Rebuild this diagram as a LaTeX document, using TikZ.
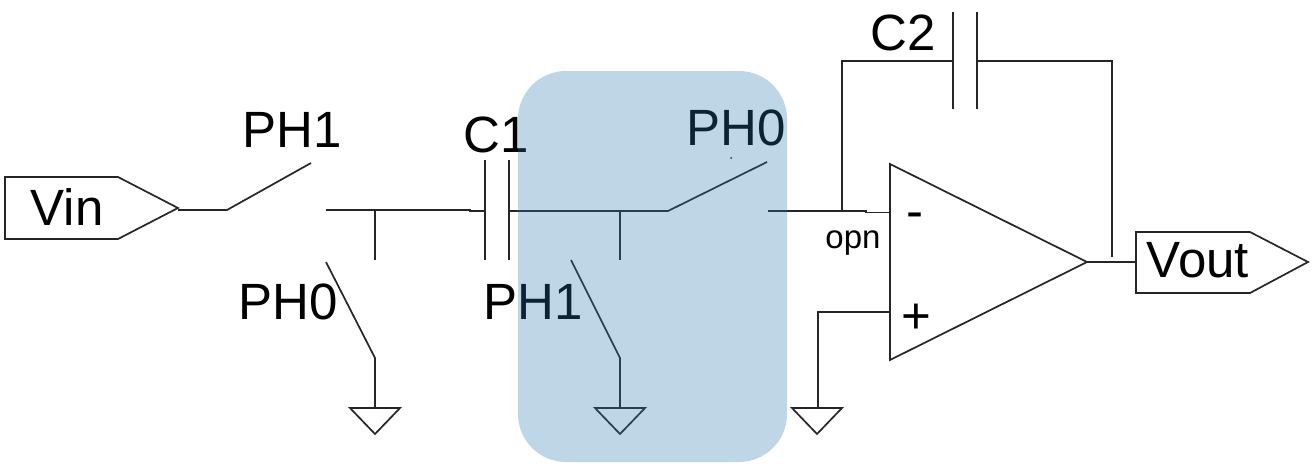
\documentclass[tikz,border=0pt]{standalone}
\usepackage{fontspec}
\setmainfont{Liberation Sans}
\definecolor{bluebox}{HTML}{2A76AC}
\tikzset{wire/.style={draw=black!85,line width=.85pt},
 lbl/.style={font=\fontsize{25.5}{26}\selectfont,inner sep=0pt,text=black},
 smalllbl/.style={font=\fontsize{16.5}{17}\selectfont,inner sep=0pt,text=black},
 holdbox/.style={fill=bluebox,fill opacity=.3,rounded corners=24pt,inner sep=0pt},
 }
\begin{document}
\begin{tikzpicture}[x=.5pt,y=-.5pt]
        \useasboundingbox (0,0) rectangle (1315,466);
        % input port
        \draw[wire] (5,177) -- (118,177) -- (178,208) -- (118,239) -- (5,239) -- cycle;
        \node[lbl] (vin) at (67,207) {Vin};
        \coordinate (vintip) at (178,210);
        \coordinate (sa) at (227,210);
        \coordinate (sb) at (311,163);
        \coordinate (na) at (326,210);
        \coordinate (c1l) at (485,211);
        \coordinate (c1r) at (509,211);
        \coordinate (sc) at (668,211);
        \coordinate (sd) at (767,162);
        \coordinate (opn) at (768,211);
        \coordinate (jog) at (866,211);
        \coordinate (joh) at (866,212.5);
        \coordinate (fb) at (842,211);
        \coordinate (inn) at (890,212.5);
        \draw[wire] (vintip) -- (sa) -- (sb);
        \draw[wire] (na) -- (470,210) -- (470,211) -- (c1l);
        \draw[wire] (c1r) -- (sc) -- (sd);
        \draw[wire] (opn) -- (jog) -- (joh) -- (inn);
        \fill[black!85] (731,158) circle (.5pt);
        % capacitors
        \draw[wire] (485,160) -- (485,260);
        \draw[wire] (509,160) -- (509,260);
        \draw[wire] (953,12) -- (953,109);
        \draw[wire] (977,12) -- (977,109);
        % shunt switches
        \coordinate (ta) at (375,210);
        \coordinate (tb) at (375,260);
        \coordinate (tc) at (326,262);
        \coordinate (td) at (375,358);
        \coordinate (te) at (375,408);
        \draw[wire] (ta) -- (tb);
        \draw[wire] (tc) -- (td) -- (te);
        \coordinate (ua) at (620,210);
        \coordinate (ub) at (620,260);
        \coordinate (uc) at (571,260);
        \coordinate (ud) at (620,358);
        \coordinate (ue) at (620,408);
        \draw[wire] (ua) -- (ub);
        \draw[wire] (uc) -- (ud) -- (ue);
        % grounds
        \draw[wire] (350,408) -- (400,408) -- (375,434) -- cycle;
        \draw[wire] (595,408) -- (645,408) -- (620,434) -- cycle;
        \draw[wire] (792,408) -- (842,408) -- (817,434) -- cycle;
        % opamp
        \draw[wire] (890,164) -- (890,360) -- (1087,262) -- cycle;
        \coordinate (out) at (1087,262);
        \coordinate (vouttail) at (1136,262);
        \draw[wire] (out) -- (vouttail);
        \draw[wire] (fb) -- (842,61) -- (953,61);
        \draw[wire] (977,61) -- (1112,61) -- (1112,257);
        \draw[wire] (890,312) -- (818,312) -- (818,408);
        \node[lbl] (minus) at (915,221) {-};
        \node[lbl] (plus) at (916,319) {+};
        \node[smalllbl] (opnlbl) at (853,243) {opn};
        % output port
        \draw[wire] (1136,232) -- (1250,232) -- (1308,262) -- (1250,293) -- (1136,293) -- cycle;
        \node[lbl] (vout) at (1198,260) {Vout};
        \node[lbl] (pha) at (292,130) {PH1};
        \node[lbl] (phb) at (288,302) {PH0};
        \node[lbl] (c1) at (496,135) {C1};
        \node[lbl] (phc) at (533,302) {PH1};
        \node[lbl] (phd) at (736,128) {PH0};
        \node[lbl] (c2) at (903,33) {C2};
        % tinted region over the wires and labels
        \node[holdbox,minimum width=134.5pt,minimum height=195.5pt] (hold) at (652.5,266.5) {};
    \end{tikzpicture}
\end{document}
